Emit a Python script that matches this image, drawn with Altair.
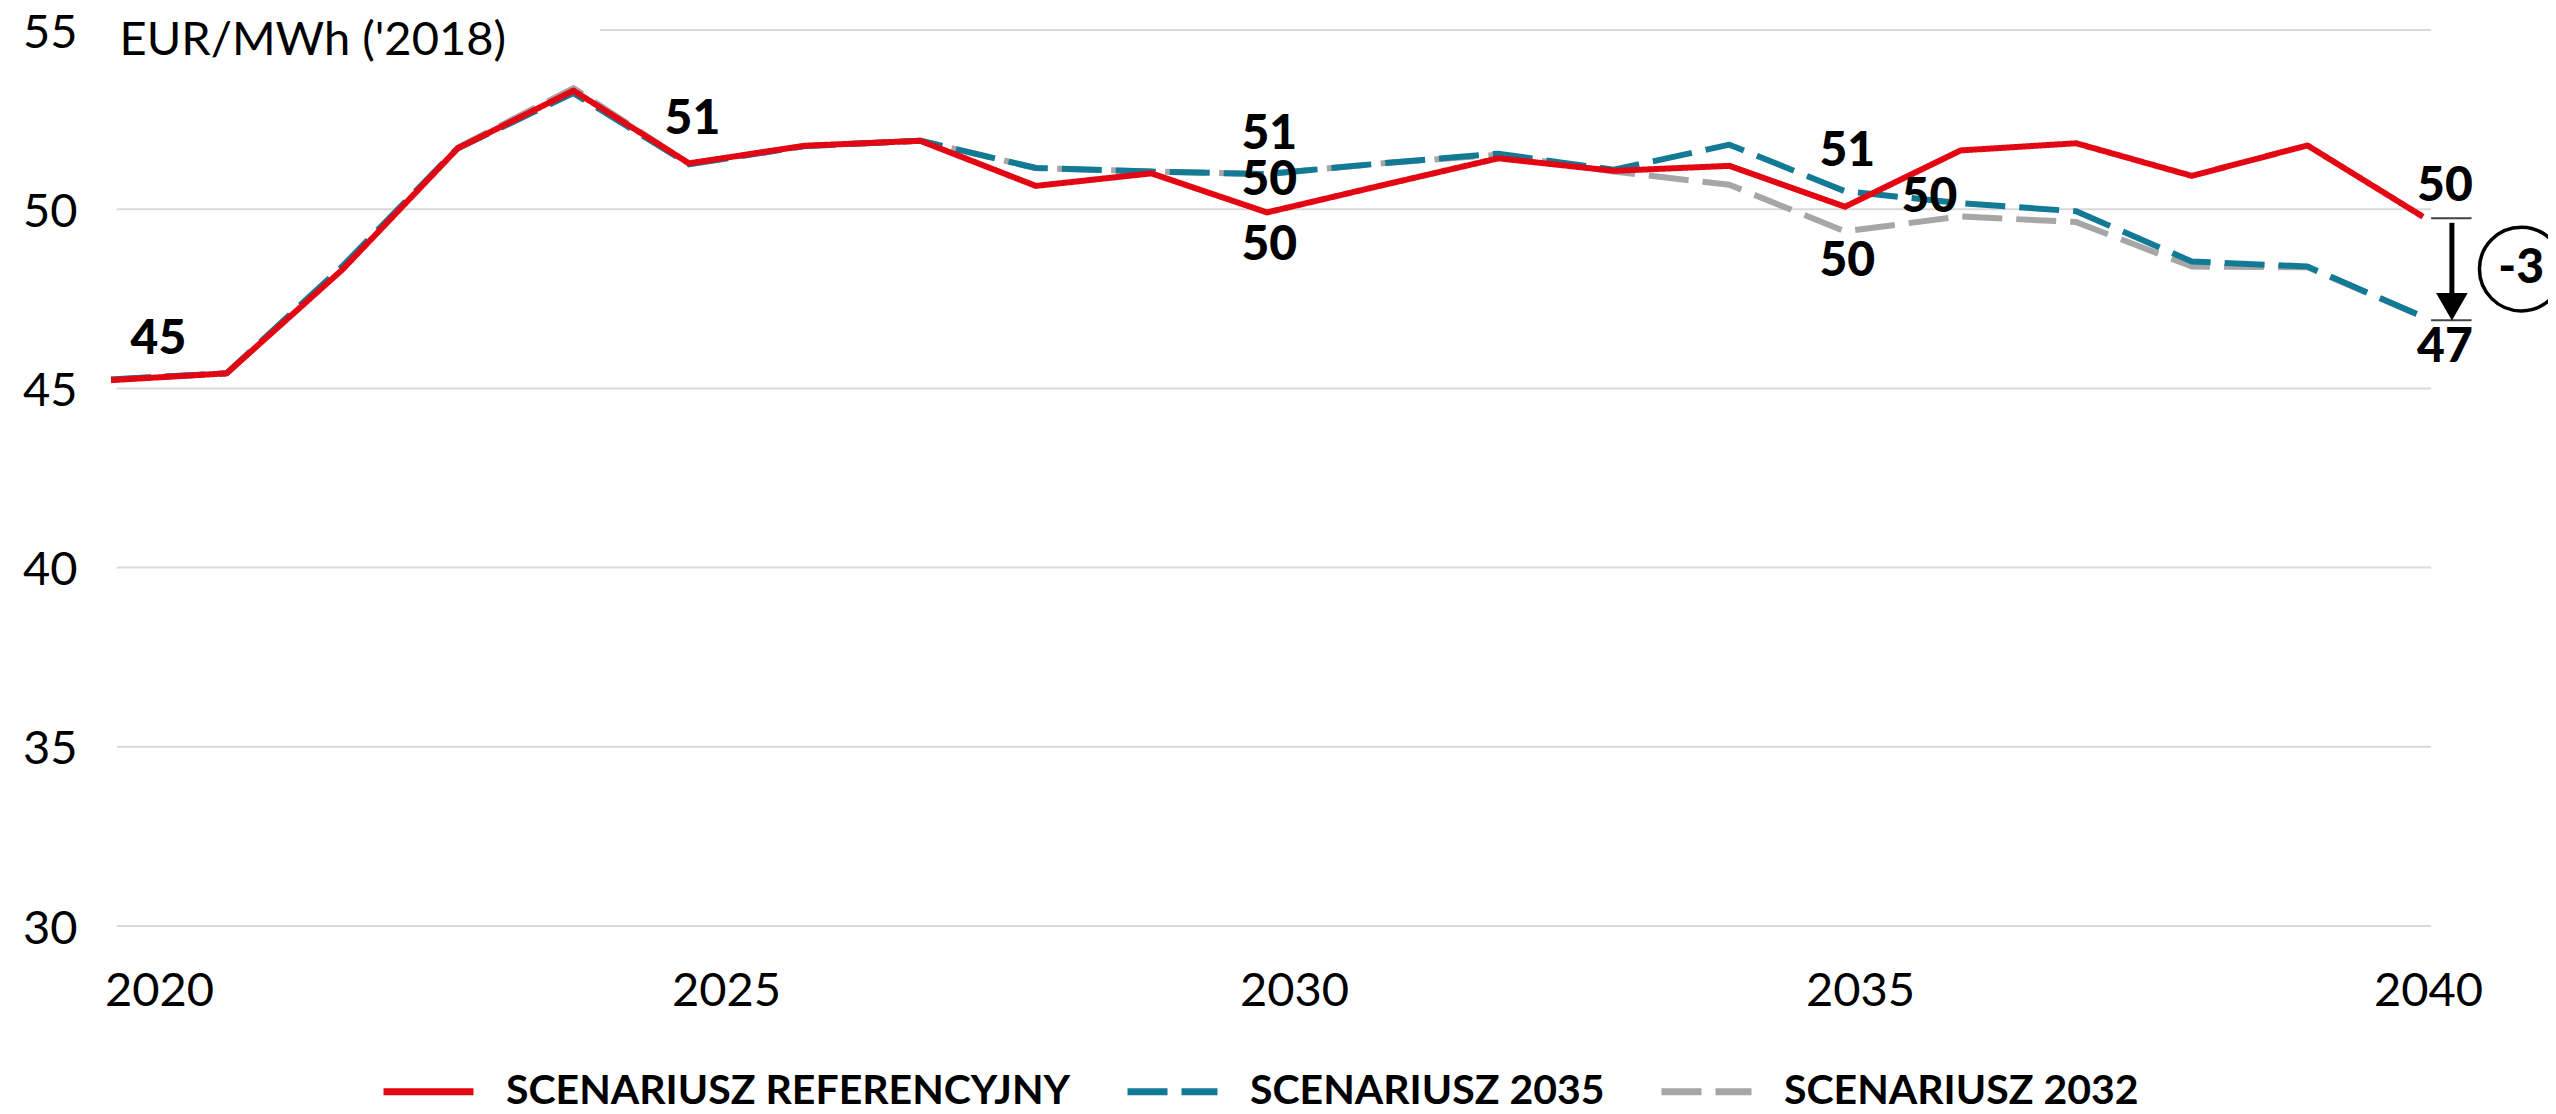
import altair as alt
import pandas as pd

# ---------------- data ----------------
years = list(range(2020, 2041))
ref = [45.23, 45.42, 48.31, 51.70, 53.31, 51.28, 51.77, 51.91, 50.65, 51.00, 49.91,
       50.67, 51.42, 51.07, 51.21, 50.07, 51.64, 51.84, 50.93, 51.78, 49.79]
s2035 = [45.25, 45.42, 48.40, 51.70, 53.24, 51.25, 51.76, 51.91, 51.15, 51.05, 50.98,
         51.28, 51.55, 51.10, 51.80, 50.50, 50.17, 49.94, 48.54, 48.40, 47.00]
s2032 = [45.25, 45.42, 48.40, 51.72, 53.38, 51.27, 51.76, 51.91, 51.15, 51.05, 50.98,
         51.28, 51.52, 51.05, 50.68, 49.38, 49.80, 49.64, 48.40, 48.38, 47.00]

series_names = ["SCENARIUSZ REFERENCYJNY", "SCENARIUSZ 2035", "SCENARIUSZ 2032"]
series_colors = ["#e30613", "#137a96", "#a6a6a6"]
series_dash = [[1, 0], [40, 14], [40, 14]]

x_ticks = [2020, 2025, 2030, 2035, 2040]
y_ticks = [30, 35, 40, 45, 50, 55]
y_title = "EUR/MWh ('2018)"

# value labels
lab_x = [2020.41, 2025.03, 2030.02, 2030.02, 2030.02, 2035.02, 2035.73, 2035.02, 2040.19, 2040.19]
lab_y = [46.35, 52.49, 52.07, 50.80, 48.97, 51.60, 50.30, 48.54, 50.63, 46.12]
lab_t = ["45", "51", "51", "50", "50", "51", "50", "50", "50", "47"]

# gridlines (value, start year, end year)
grid_y = [30, 35, 40, 45, 50, 55]
grid_x0 = [2020.05, 2020.05, 2020.05, 2020.05, 2020.05, 2024.23]
grid_x1 = [2040.07, 2040.07, 2040.07, 2040.07, 2040.07, 2040.07]

# difference bracket at 2040
brk_y = [49.75, 46.90]
brk_x0 = [2040.07, 2040.07]
brk_x1 = [2040.42, 2040.42]
arrow_x = [2040.25]
arrow_y0 = [49.62]
arrow_y1 = [47.45]
head_y = [47.28]
diff_x = [2040.85]
diff_y = [48.33]
diff_t = ["-3"]

# ---------------- build ----------------
rows = []
for name, vals in zip(series_names, [ref, s2035, s2032]):
    for yr, v in zip(years, vals):
        rows.append({"x": yr, "y": v, "s": name})
lines_df = pd.DataFrame(rows)

FONT = "Lato"
xscale = alt.Scale(domain=[2020, 2040], nice=False, zero=False)
yscale = alt.Scale(domain=[30, 55], nice=False, zero=False)

x_axis = alt.Axis(
    values=x_ticks, format="d", title=None, grid=False, domain=False, ticks=False,
    tickSize=0, labelPadding=42, labelFontSize=47, labelFont=FONT, labelColor="#000",
    labelFlush=False,
    labelOffset={"condition": [
        {"test": "datum.value == 2020", "value": 48},
        {"test": "datum.value == 2025", "value": 37},
        {"test": "datum.value == 2030", "value": 27},
        {"test": "datum.value == 2035", "value": 15},
    ], "value": 5},
)
y_axis = alt.Axis(
    values=y_ticks, title=y_title, grid=False, domain=False, ticks=False, tickSize=0,
    labelPadding=34, labelFontSize=47, labelFont=FONT, labelColor="#000", labelOffset=3,
    titleAngle=0, titleAlign="left", titleBaseline="middle", titleX=8, titleY=10,
    titleFont=FONT, titleFontSize=47, titleFontWeight="normal", titleColor="#000",
)

X = lambda f="x": alt.X(f"{f}:Q", scale=xscale, axis=x_axis)
Y = lambda f="y": alt.Y(f"{f}:Q", scale=yscale, axis=y_axis)

grid_df = pd.DataFrame({"y": grid_y, "x": grid_x0, "x2": grid_x1})
grid = alt.Chart(grid_df).mark_rule(color="#d9d9d9", strokeWidth=2).encode(
    x=X(), x2="x2:Q", y=Y()
)

color_enc = alt.Color("s:N", scale=alt.Scale(domain=series_names, range=series_colors),
                      legend=alt.Legend(title=None))
dash_enc = alt.StrokeDash("s:N", scale=alt.Scale(domain=series_names, range=series_dash),
                          legend=alt.Legend(title=None))

def series_layer(name):
    return alt.Chart(lines_df).transform_filter(
        alt.datum.s == name
    ).mark_line(strokeWidth=6, strokeJoin="round").encode(
        x=X(), y=Y(), color=color_enc, strokeDash=dash_enc, order="x:Q"
    )

line_grey = series_layer(series_names[2])
line_teal = series_layer(series_names[1])
line_red = series_layer(series_names[0])

lab_df = pd.DataFrame({"x": lab_x, "y": lab_y, "t": lab_t})
labels = alt.Chart(lab_df).mark_text(
    font=FONT, fontSize=48, fontWeight=900, color="#000", align="center", baseline="middle"
).encode(x=X(), y=Y(), text="t:N")

brk_df = pd.DataFrame({"y": brk_y, "x": brk_x0, "x2": brk_x1})
bracket = alt.Chart(brk_df).mark_rule(color="#444", strokeWidth=2).encode(
    x=X(), x2="x2:Q", y=Y()
)

arrow_df = pd.DataFrame({"x": arrow_x, "y": arrow_y0, "y2": arrow_y1})
arrow = alt.Chart(arrow_df).mark_rule(color="#000", strokeWidth=5).encode(
    x=X(), y=Y(), y2="y2:Q"
)
head_df = pd.DataFrame({"x": arrow_x, "y": head_y})
head = alt.Chart(head_df).mark_point(
    shape="triangle-down", filled=True, color="#000", size=1000, opacity=1
).encode(x=X(), y=Y())

diff_df = pd.DataFrame({"x": diff_x, "y": diff_y, "t": diff_t})
circle = alt.Chart(diff_df).mark_point(
    shape="circle", filled=False, color="#000", strokeWidth=3.5, size=7000, opacity=1
).encode(x=X(), y=Y())
circle_txt = alt.Chart(diff_df).mark_text(
    font=FONT, fontSize=48, fontWeight=900, color="#000", align="center", baseline="middle"
).encode(x=X(), y=Y(), text="t:N")

chart = alt.layer(
    grid, line_grey, line_teal, line_red, labels, bracket, arrow, head, circle, circle_txt
).properties(
    width=2312, height=896,
    autosize=alt.AutoSizeParams(type="none"),
    padding={"left": 103, "top": 22, "right": 125, "bottom": 180},
).configure(font=FONT).configure_view(stroke=None).configure_legend(
    orient="none", legendX=269, legendY=1013, direction="horizontal",
    symbolType="stroke", symbolSize=8100, symbolStrokeWidth=7,
    labelFont=FONT, labelFontSize=41, labelFontWeight="bold", labelColor="#000",
    labelOffset=29, columnPadding=42, labelLimit=0, padding=0,
)

chart.save("out.html", embed_options={"renderer": "svg", "actions": False})
